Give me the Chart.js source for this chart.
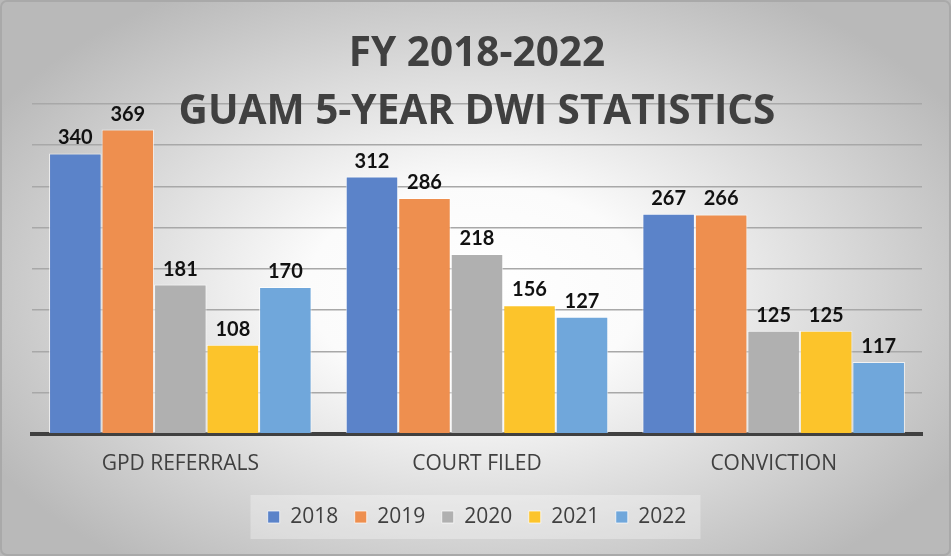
<!DOCTYPE html>
<html><head><meta charset="utf-8">
<script src="https://cdn.jsdelivr.net/npm/chart.js@4.4.0/dist/chart.umd.min.js"></script>
<style>html,body{margin:0;padding:0;background:#fff;overflow:hidden}</style>
</head><body>
<canvas id="c" width="951" height="556"></canvas>
<script>
// ---- data ----
const categories = ['GPD REFERRALS', 'COURT FILED', 'CONVICTION'];
const seriesNames = ['2018', '2019', '2020', '2021', '2022'];
// bar lengths as drawn in the picture
const bars2018 = [340, 312, 267];
const bars2019 = [369, 286, 266];
const bars2020 = [181, 218, 125];
const bars2021 = [108, 156, 125];
const bars2022 = [178, 142, 87];
// value labels as printed above the bars
const text2018 = ['340', '312', '267'];
const text2019 = ['369', '286', '266'];
const text2020 = ['181', '218', '125'];
const text2021 = ['108', '156', '125'];
const text2022 = ['170', '127', '117'];
const titleLines = ['FY 2018-2022', 'GUAM 5-YEAR DWI STATISTICS'];
const yMin = 0, yMax = 400, yStep = 50;

const colors = ['#5B83C9', '#EE8F4F', '#B0B0B0', '#FCC42B', '#70A7DB'];
const FONT = '"Open Sans", Lato, sans-serif';
const LFONT = 'Lato, "Open Sans", sans-serif';

const barSets = [bars2018, bars2019, bars2020, bars2021, bars2022];
const textSets = [text2018, text2019, text2020, text2021, text2022];

const bgPlugin = {
  id: 'bg',
  beforeDraw(chart) {
    const ctx = chart.ctx, W = chart.width, H = chart.height;
    ctx.save();
    ctx.fillStyle = '#ffffff';
    ctx.fillRect(0, 0, W, H);
    ctx.translate(W * 0.5, H * 0.52);
    ctx.scale(1, 0.62);
    const g = ctx.createRadialGradient(0, 0, 0, 0, 0, 560);
    g.addColorStop(0, '#ffffff');
    g.addColorStop(0.3, '#fbfbfb');
    g.addColorStop(1, '#b9b9b9');
    ctx.fillStyle = g;
    ctx.fillRect(-W, -H * 2, W * 2, H * 4);
    ctx.restore();
    // legend backdrop
    const lg = chart.legend;
    if (lg && lg.legendHitBoxes && lg.legendHitBoxes.length) {
      const hb = lg.legendHitBoxes[0];
      const cy = hb.top + hb.height / 2;
      ctx.save();
      ctx.fillStyle = 'rgba(255,255,255,0.3)';
      const lw = 450, lx = (W - lw) / 2;
      ctx.fillRect(lx, cy - 22, lw, 44);
      ctx.restore();
    }
    // frame
    ctx.save();
    ctx.strokeStyle = '#a9a9a9';
    ctx.lineWidth = 2;
    ctx.beginPath();
    ctx.roundRect(1, 1, W - 2, H - 2, 6);
    ctx.stroke();
    ctx.restore();
  }
};

const labelPlugin = {
  id: 'valueLabels',
  afterDatasetsDraw(chart) {
    const ctx = chart.ctx;
    ctx.save();
    ctx.font = 'bold 20px ' + LFONT;
    ctx.fillStyle = '#111111';
    ctx.textAlign = 'center';
    ctx.textBaseline = 'alphabetic';
    chart.data.datasets.forEach((ds, i) => {
      const meta = chart.getDatasetMeta(i);
      meta.data.forEach((el, j) => {
        ctx.fillText(textSets[i][j], el.x, el.y - 9);
      });
    });
    ctx.restore();
  }
};

new Chart(document.getElementById('c'), {
  type: 'bar',
  data: {
    labels: categories,
    datasets: seriesNames.map((n, i) => ({
      label: n,
      data: barSets[i],
      backgroundColor: colors[i],
      borderColor: 'rgba(255,255,255,0.7)',
      borderWidth: 1,
      categoryPercentage: 0.885,
      barPercentage: 1.0
    }))
  },
  options: {
    responsive: false,
    animation: false,
    devicePixelRatio: 1,
    layout: { padding: { left: 32, right: 29, top: 0, bottom: 18.5 } },
    plugins: {
      title: {
        display: true,
        text: titleLines,
        color: '#404040',
        font: { family: FONT, size: 40.5, weight: 'bold', lineHeight: '58px' },
        padding: { top: 25, bottom: -37 }
      },
      legend: {
        position: 'bottom',
        labels: {
          boxWidth: 12, boxHeight: 12, padding: 16.5,
          color: '#404040',
          font: { family: FONT, size: 21 }
        }
      },
      tooltip: { enabled: false }
    },
    scales: {
      x: {
        grid: { display: false },
        border: { display: true, color: '#404040', width: 4 },
        ticks: { color: '#404040', font: { family: FONT, size: 21 }, padding: 10 },
        afterFit(scale) { scale.height += 3; }
      },
      y: {
        z: -1,
        min: yMin, max: yMax,
        ticks: { display: false, stepSize: yStep },
        grid: { color: '#a8a8a8', lineWidth: 1.5, drawTicks: false },
        border: { display: false }
      }
    }
  },
  plugins: [bgPlugin, labelPlugin]
});
</script>
</body></html>
